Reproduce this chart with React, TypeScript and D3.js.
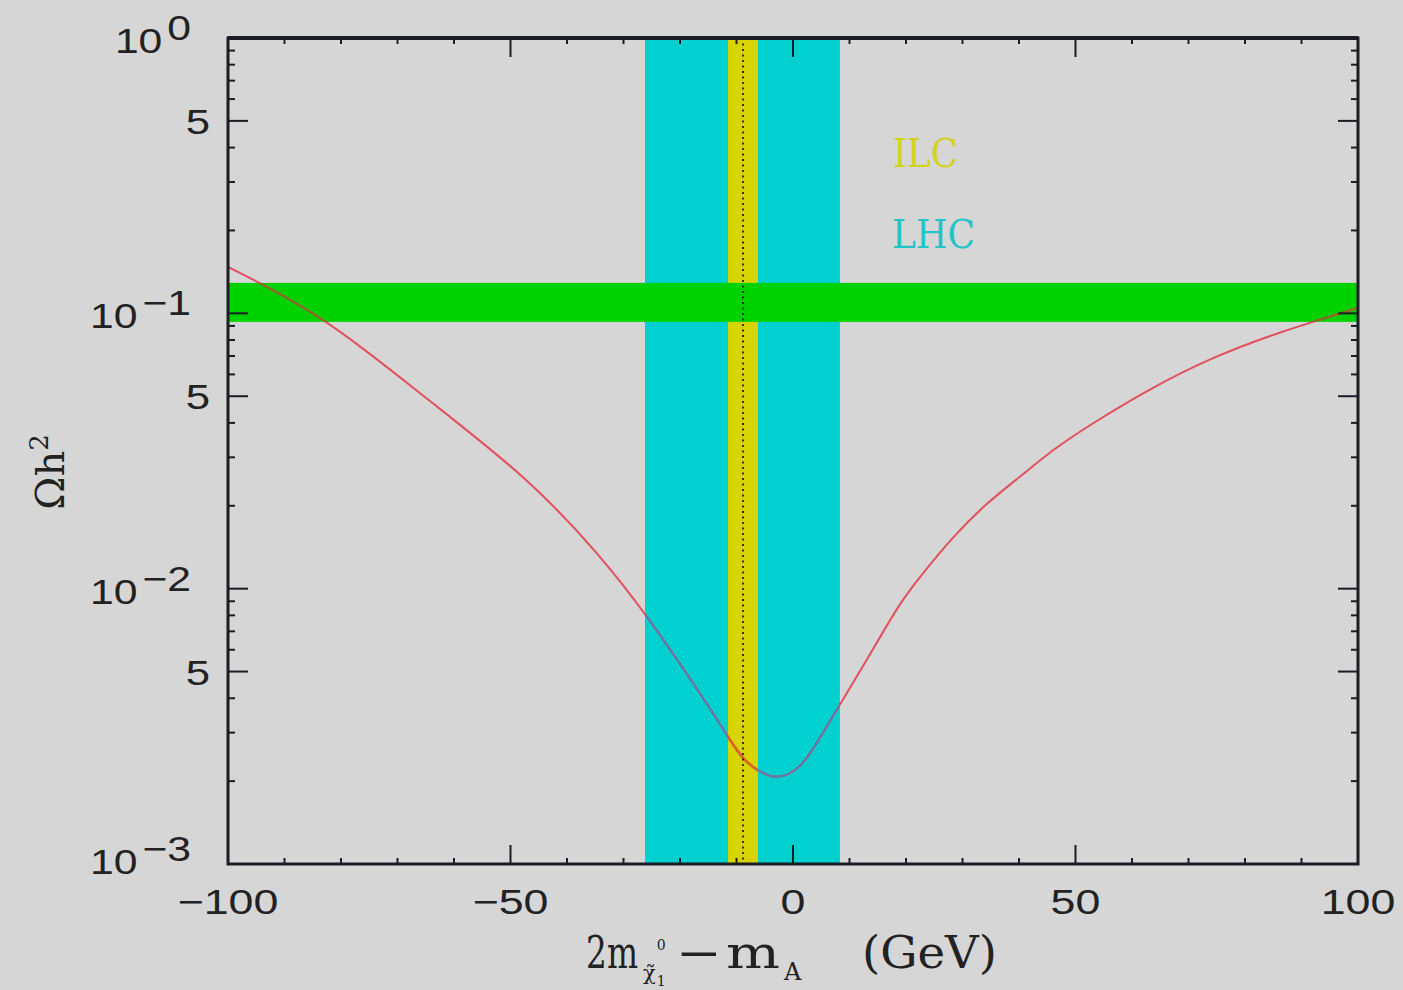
import React from "react";
import * as d3 from "d3";

// ---- data ----
const xDomain = [-100, 100];
const yDomain = [1e-3, 1];
const xMajorTicks = [-100, -50, 0, 50, 100];
const yDecades = [-3, -2, -1, 0];

// relic density curve (Omega h^2 vs 2m_chi - m_A)
const curveX = [-100, -94.3, -81.8, -64.6, -46.9, -34.2, -26.2, -16.5, -11.2, -8.85, -5.84, -2.83, 1.24, 4.25, 8.3, 13.1, 18.9, 22.5, 28.3, 34.3, 40.2, 46.0, 52.0, 62.7, 74.3, 86.2, 100];
const curveY = [0.1475, 0.129, 0.0931, 0.0485, 0.0253, 0.01328, 0.00818, 0.0042, 0.00283, 0.00239, 0.00215, 0.00203, 0.0022, 0.00276, 0.00379, 0.00552, 0.00889, 0.01106, 0.01545, 0.0205, 0.0255, 0.032, 0.0387, 0.0527, 0.0695, 0.0857, 0.1047];

// bands
const wmapBand = [0.0931, 0.129]; // green, Omega h^2
const lhcBand = [-26.2, 8.3]; // cyan
const ilcBand = [-11.5, -6.2]; // yellow
const ilcCentral = -8.85; // dotted line

const W = 1403, H = 990;
const M = { left: 228, right: 1358, top: 38, bottom: 864 };

const C = {
  bg: "#d6d6d6",
  axis: "#1c1c24",
  green: "#00d200",
  cyan: "#00d0d0",
  yellow: "#d8d400",
  curve: "#e2505c",
  curveOnCyan: "#6a74a6",
  curveOnYellow: "#e0641a",
  curveOnGreen: "#8a6a2a",
  ilcText: "#d2d21e",
  lhcText: "#22c4c8",
};

export default function App() {
  const x = d3.scaleLinear().domain(xDomain).range([M.left, M.right]);
  const y = d3.scaleLog().domain(yDomain).range([M.bottom, M.top]);

  const pts = curveX.map((v, i) => [v, curveY[i]] as [number, number]);
  const line = d3
    .line<[number, number]>()
    .x((d) => x(d[0]))
    .y((d) => y(d[1]))
    .curve(d3.curveBasis);
  const path = line(pts) || "";

  const minorX = d3.range(-100, 101, 10);
  const yTickVals: { v: number; major: boolean; label: string | null; dec: number }[] = [];
  yDecades.forEach((d) => {
    if (d === 0) {
      yTickVals.push({ v: 1, major: true, label: "dec", dec: 0 });
      return;
    }
    for (let m = 1; m <= 9; m++) {
      const v = m * Math.pow(10, d);
      yTickVals.push({ v, major: m === 1 || m === 5, label: m === 1 ? "dec" : m === 5 ? "5" : null, dec: d });
    }
  });

  const tickFont = "'Liberation Sans', Arial, sans-serif";
  const serif = "'DejaVu Serif', 'Liberation Serif', serif";

  return (
    <svg width={W} height={H} style={{ position: "absolute", left: 0, top: 0 }}>
      <defs>
        <clipPath id="clipCyan">
          <rect x={x(lhcBand[0])} y={M.top} width={x(lhcBand[1]) - x(lhcBand[0])} height={M.bottom - M.top} />
        </clipPath>
        <clipPath id="clipYellow">
          <rect x={x(ilcBand[0])} y={M.top} width={x(ilcBand[1]) - x(ilcBand[0])} height={M.bottom - M.top} />
        </clipPath>
        <clipPath id="clipGreen">
          <rect x={M.left} y={y(wmapBand[1])} width={M.right - M.left} height={y(wmapBand[0]) - y(wmapBand[1])} />
        </clipPath>
        <clipPath id="clipPlot">
          <rect x={M.left} y={M.top} width={M.right - M.left} height={M.bottom - M.top} />
        </clipPath>
      </defs>
      <rect x={0} y={0} width={W} height={H} fill={C.bg} />

      {/* bands */}
      <rect x={x(lhcBand[0])} y={M.top} width={x(lhcBand[1]) - x(lhcBand[0])} height={M.bottom - M.top} fill={C.cyan} />
      <rect x={x(ilcBand[0])} y={M.top} width={x(ilcBand[1]) - x(ilcBand[0])} height={M.bottom - M.top} fill={C.yellow} />
      <rect x={M.left} y={y(wmapBand[1])} width={M.right - M.left} height={y(wmapBand[0]) - y(wmapBand[1])} fill={C.green} />

      {/* curve */}
      <g clipPath="url(#clipPlot)">
        <path d={path} fill="none" stroke={C.curve} strokeWidth={2} />
        <path d={path} fill="none" stroke={C.curveOnCyan} strokeWidth={2.2} clipPath="url(#clipCyan)" />
        <path d={path} fill="none" stroke={C.curveOnYellow} strokeWidth={2.4} clipPath="url(#clipYellow)" />
        <path d={path} fill="none" stroke={C.curveOnGreen} strokeWidth={2.2} clipPath="url(#clipGreen)" />
      </g>

      {/* dotted ILC central line */}
      <line x1={x(ilcCentral)} x2={x(ilcCentral)} y1={M.top} y2={M.bottom} stroke="#222" strokeWidth={1.8} strokeDasharray="2,3.5" />

      {/* ILC / LHC labels */}
      <text x={893} y={167} fontFamily={serif} fontSize={40} fill={C.ilcText} textLength={65} lengthAdjust="spacingAndGlyphs">ILC</text>
      <text x={892} y={248} fontFamily={serif} fontSize={40} fill={C.lhcText} textLength={83} lengthAdjust="spacingAndGlyphs">LHC</text>

      {/* frame */}
      <rect x={M.left} y={M.top} width={M.right - M.left} height={M.bottom - M.top} fill="none" stroke={C.axis} strokeWidth={3} />
      <line x1={M.left} x2={M.right} y1={M.top} y2={M.top} stroke={C.axis} strokeWidth={4} />

      {/* x ticks */}
      {minorX.map((v) => {
        const major = xMajorTicks.includes(v);
        const len = major ? 19 : 6;
        return (
          <g key={"xt" + v}>
            <line x1={x(v)} x2={x(v)} y1={M.bottom} y2={M.bottom - len} stroke={C.axis} strokeWidth={2} />
            <line x1={x(v)} x2={x(v)} y1={M.top} y2={M.top + len} stroke={C.axis} strokeWidth={2} />
          </g>
        );
      })}

      {/* y ticks */}
      {yTickVals.map((t, i) => {
        const len = t.major ? 20 : 7;
        return (
          <g key={"yt" + i}>
            <line x1={M.left} x2={M.left + len} y1={y(t.v)} y2={y(t.v)} stroke={C.axis} strokeWidth={2} />
            <line x1={M.right} x2={M.right - len} y1={y(t.v)} y2={y(t.v)} stroke={C.axis} strokeWidth={2} />
          </g>
        );
      })}

      {/* x tick labels */}
      {xMajorTicks.map((v) => (
        <text
          key={"xl" + v}
          transform={`translate(${x(v)},914) scale(1.28,1)`}
          textAnchor="middle"
          fontFamily={tickFont}
          fontSize={35}
          fill="#222"
        >
          {v < 0 ? "\u2212" + Math.abs(v) : String(v)}
        </text>
      ))}

      {/* y tick labels */}
      {yTickVals.filter((t) => t.label).map((t, i) => {
        const ty = y(t.v);
        if (t.label === "5") {
          return (
            <text key={"yl" + i} transform={`translate(210,${ty + 13}) scale(1.25,1)`} textAnchor="end" fontFamily={tickFont} fontSize={35} fill="#222">
              5
            </text>
          );
        }
        const base = Math.min(ty + 15, 874);
        return (
          <text key={"yl" + i} transform={`translate(191,${base}) scale(1.22,1)`} textAnchor="end" fontFamily={tickFont} fontSize={35} fill="#222">
            <tspan>10</tspan>
            <tspan dx={4} dy={-13}>{t.dec === 0 ? "0" : "\u2212" + Math.abs(t.dec)}</tspan>
          </text>
        );
      })}

      {/* y axis title */}
      <text transform="translate(64,472) rotate(-90)" textAnchor="middle" fontFamily={serif} fontSize={40} fill="#222">
        <tspan>Ωh</tspan>
        <tspan dy={-16} fontSize={26}>2</tspan>
      </text>

      {/* x axis title */}
      <g fill="#222" fontFamily={serif}>
        <text x={586} y={968} fontSize={44} textLength={52} lengthAdjust="spacingAndGlyphs">2m</text>
        <text x={643} y={980} fontSize={21}>
          {"\u03C7\u0303"}
          <tspan dx={1} dy={-30} fontSize={14}>0</tspan>
          <tspan dx={-9} dy={36} fontSize={14}>1</tspan>
        </text>
        <text x={676} y={968} fontSize={44} textLength={46} lengthAdjust="spacingAndGlyphs">−</text>
        <text x={726} y={968} fontSize={44} textLength={54} lengthAdjust="spacingAndGlyphs">m</text>
        <text x={784} y={980} fontSize={24}>A</text>
        <text x={862} y={968} fontSize={44} textLength={135} lengthAdjust="spacingAndGlyphs">(GeV)</text>
      </g>
    </svg>
  );
}
